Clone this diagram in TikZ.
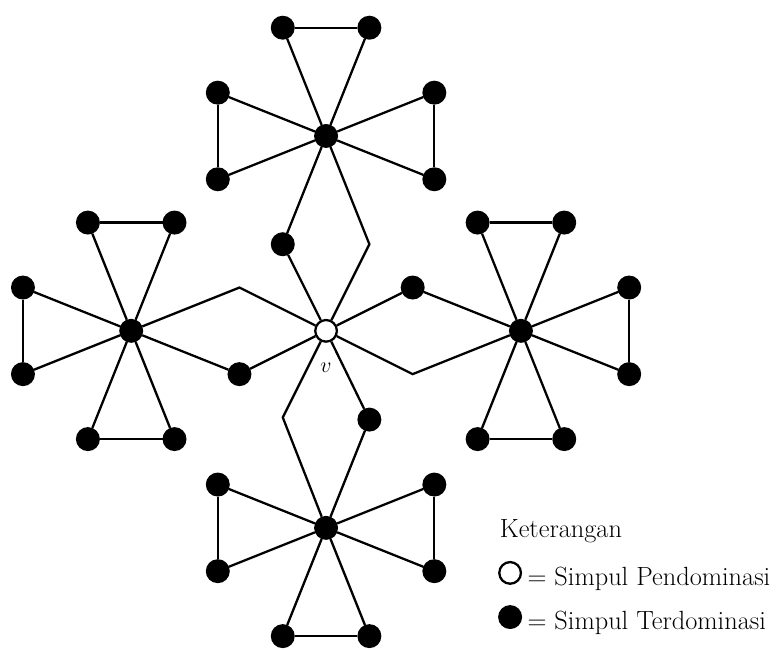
\documentclass[tikz,border=0pt]{standalone}
\usetikzlibrary{positioning}
\begin{document}
\begin{tikzpicture}[line width=1.5pt]
\tikzset{
node distance=4.5cm, % distance from v to the four centres
on grid, % place nodes centre to centre
every node/.style={font=\fontsize{17.3}{20}\selectfont}, % size of all texts
dominated/.style={circle, draw, fill=black, inner sep=0pt, minimum size=0.5cm}, % filled vertex
dominating/.style={circle, draw, fill=white, inner sep=0pt, minimum size=0.5cm}, % open vertex
}
\useasboundingbox (-7.53,-7.37) rectangle (10.39,7.64);
	\node[dominating] (v) {};
	\node[below=0.85cm of v, font=\fontsize{15}{18}\selectfont] (vlabel) {$v$};
	
	% the four centres
	\node[dominated, above=of v] (t) {};
	\node[dominated, left=of v] (l) {};
	\node[dominated, right=of v] (r) {};
	\node[dominated, below=4.55cm of v] (b) {};
	
	% leaves of the top centre
	\node[dominated, above left=2.5cm and 1cm of t] (t1) {};
	\node[dominated, above right=2.5cm and 1cm of t] (t2) {};
	\node[dominated, above left=1cm and 2.5cm of t] (t3) {};
	\node[dominated, below left=1cm and 2.5cm of t] (t4) {};
	\node[dominated, above right=1cm and 2.5cm of t] (t5) {};
	\node[dominated, below right=1cm and 2.5cm of t] (t6) {};
	
	% leaves of the left centre
	\node[dominated, above left=2.5cm and 1cm of l] (l1) {};
	\node[dominated, above right=2.5cm and 1cm of l] (l2) {};
	\node[dominated, above left=1cm and 2.5cm of l] (l3) {};
	\node[dominated, below left=1cm and 2.5cm of l] (l4) {};
	\node[dominated, below left=2.5cm and 1cm of l] (l5) {};
	\node[dominated, below right=2.5cm and 1cm of l] (l6) {};
	
	% leaves of the right centre
	\node[dominated, above left=2.5cm and 1cm of r] (r1) {};
	\node[dominated, above right=2.5cm and 1cm of r] (r2) {};
	\node[dominated, above right=1cm and 2.5cm of r] (r3) {};
	\node[dominated, below right=1cm and 2.5cm of r] (r4) {};
	\node[dominated, below left=2.5cm and 1cm of r] (r5) {};
	\node[dominated, below right=2.5cm and 1cm of r] (r6) {};
	
	% leaves of the bottom centre
	\node[dominated, above left=1cm and 2.5cm of b] (b1) {};
	\node[dominated, below left=1cm and 2.5cm of b] (b2) {};
	\node[dominated, above right=1cm and 2.5cm of b] (b3) {};
	\node[dominated, below right=1cm and 2.5cm of b] (b4) {};
	\node[dominated, below left=2.5cm and 1cm of b] (b5) {};
	\node[dominated, below right=2.5cm and 1cm of b] (b6) {};
	
	% paths between v and the centres
	\node[dominated, above left=2cm and 1cm of v] (tv) {};
	\coordinate[above right=2cm and 1cm of v] (tc);
	\coordinate[above left=1cm and 2cm of v] (lc);
	\node[dominated, below left=1cm and 2cm of v] (lv) {};
	\node[dominated, above right=1cm and 2cm of v] (rv) {};
	\coordinate[below right=1cm and 2cm of v] (rc);
	\coordinate[below left=2cm and 1cm of v] (bc);
	\node[dominated, below right=2.05cm and 1cm of v] (bv) {};
	
	\draw (t) edge (t1) edge (t2) edge (t3) edge (t4) edge (t5) edge (t6)
	(t1) edge (t2) (t3) edge (t4) (t5) edge (t6);
	\draw (l) edge (l1) edge (l2) edge (l3) edge (l4) edge (l5) edge (l6)
	(l1) edge (l2) (l3) edge (l4) (l5) edge (l6);
	\draw (r) edge (r1) edge (r2) edge (r3) edge (r4) edge (r5) edge (r6)
	(r1) edge (r2) (r3) edge (r4) (r5) edge (r6);
	\draw (b) edge (b1) edge (b2) edge (b3) edge (b4) edge (b5) edge (b6)
	(b1) edge (b2) (b3) edge (b4) (b5) edge (b6);
	
	\draw (t) -- (tv) -- (v);
	\draw (t) -- (tc) -- (v);
	\draw (l) -- (lc) -- (v);
	\draw (l) -- (lv) -- (v);
	\draw (r) -- (rv) -- (v);
	\draw (r) -- (rc) -- (v);
	\draw (b) -- (bc) -- (v);
	\draw (b) -- (bv) -- (v);
	
	% legend
	\node[anchor=base west] (key) at (3.87,-4.78) {Keterangan};
	\node[dominating] (keyopen) at (4.25,-5.59) {};
	\node[anchor=base west] (keyopentext) at (4.51,-5.87) {$=$ Simpul Pendominasi};
	\node[dominated] (keyfull) at (4.25,-6.61) {};
	\node[anchor=base west] (keyfulltext) at (4.51,-6.89) {$=$ Simpul Terdominasi};
\end{tikzpicture}
\end{document}
